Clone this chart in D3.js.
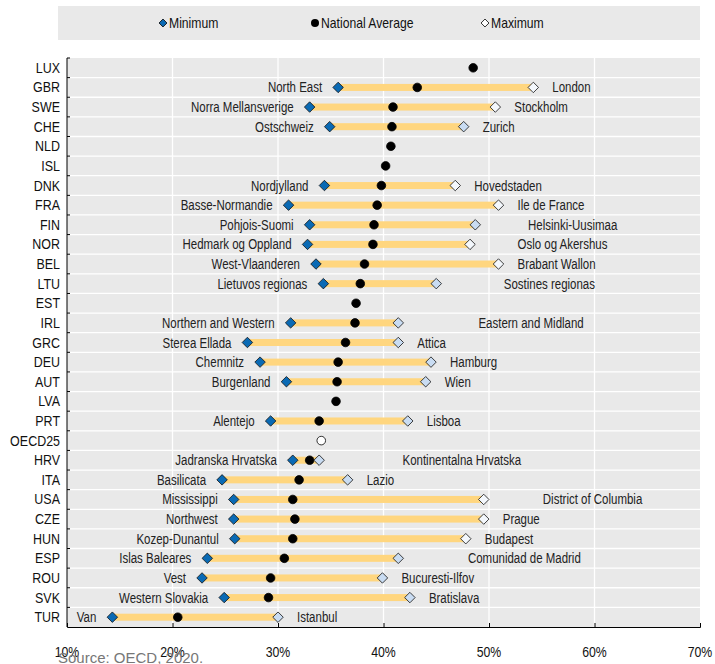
<!DOCTYPE html>
<html>
<head>
<meta charset="utf-8">
<script src="https://cdn.jsdelivr.net/npm/d3@7/dist/d3.min.js"></script>
<style>
  body { margin: 0; background: #fff; }
  svg text { font-family: "Liberation Sans", Arial, sans-serif; }
</style>
</head>
<body>
<div class="canvas"></div>
<script>
// countries, top to bottom
var countries = ["LUX", "GBR", "SWE", "CHE", "NLD", "ISL", "DNK", "FRA", "FIN", "NOR", "BEL", "LTU", "EST", "IRL",
    "GRC", "DEU", "AUT", "LVA", "PRT", "OECD25", "HRV", "ITA", "USA", "CZE", "HUN", "ESP", "ROU", "SVK", "TUR"];

var minValues = [null, 35.7, 33.0, 34.9, null, null, 34.4, 31.0, 33.0, 32.8, 33.6, 34.3, null, 31.2,
    27.1, 28.3, 30.8, null, 29.3, null, 31.4, 24.7, 25.8, 25.8, 25.9, 23.3, 22.8, 24.9, 14.3];

var avgValues = [48.5, 43.2, 40.9, 40.8, 40.7, 40.2, 39.8, 39.4, 39.1, 39.0, 38.2, 37.8, 37.4, 37.3,
    36.4, 35.7, 35.6, 35.5, 33.9, 34.1, 33.0, 32.0, 31.4, 31.6, 31.4, 30.6, 29.3, 29.1, 20.5];

var maxValues = [null, 54.2, 50.6, 47.6, null, null, 46.8, 50.9, 48.7, 48.2, 50.9, 45.0, null, 41.4,
    41.4, 44.5, 44.0, null, 42.3, null, 33.9, 36.6, 49.5, 49.5, 47.8, 41.4, 39.9, 42.5, 30.0];

var minRegions = ["", "North East", "Norra Mellansverige", "Ostschweiz", "", "", "Nordjylland", "Basse-Normandie",
    "Pohjois-Suomi", "Hedmark og Oppland", "West-Vlaanderen", "Lietuvos regionas", "", "Northern and Western",
    "Sterea Ellada", "Chemnitz", "Burgenland", "", "Alentejo", "", "Jadranska Hrvatska", "Basilicata",
    "Mississippi", "Northwest", "Kozep-Dunantul", "Islas Baleares", "Vest", "Western Slovakia", "Van"];

var maxRegions = ["", "London", "Stockholm", "Zurich", "", "", "Hovedstaden", "Ile de France",
    "Helsinki-Uusimaa", "Oslo og Akershus", "Brabant Wallon", "Sostines regionas", "", "Eastern and Midland",
    "Attica", "Hamburg", "Wien", "", "Lisboa", "", "Kontinentalna Hrvatska", "Lazio",
    "District of Columbia", "Prague", "Budapest", "Comunidad de Madrid", "Bucuresti-Ilfov", "Bratislava", "Istanbul"];

// where a max label sits on the value axis when it is pushed away from its marker (null = next to it)
var maxLabelAt = [null, null, null, null, null, null, null, null, 53.7, 52.7, null, 51.4, null, 49.0,
    null, null, null, null, null, null, 41.8, null, 55.1, null, null, 48.0, null, null, null];

// max markers drawn with a white fill instead of light blue
var maxWhite = ["GBR", "SWE", "DNK", "FRA", "NOR", "BEL", "USA", "CZE", "HUN"];

var xTicks = [10, 20, 30, 40, 50, 60, 70];
var legendItems = ["Minimum", "National Average", "Maximum"];

var rows = countries.map(function (c, i) {
    return { country: c, min: minValues[i], avg: avgValues[i], max: maxValues[i],
        minName: minRegions[i], maxName: maxRegions[i], maxAt: maxLabelAt[i] };
});

var W = 715, H = 664;
var margin = { top: 58, right: 15, bottom: 37, left: 67 };
var width = W - margin.left - margin.right,
    height = H - margin.top - margin.bottom;

// no narrow font available, so squeeze texts horizontally
function squeeze(sel, k) {
    sel.each(function () {
        var t = d3.select(this);
        var x0 = +t.attr("x") || 0, y0 = +t.attr("y") || 0;
        t.attr("transform", "translate(" + x0 + "," + y0 + ") scale(" + k + ",1)")
            .attr("x", 0).attr("y", 0);
    });
}

var svg = d3.select(".canvas").append("svg")
    .attr("width", W)
    .attr("height", H);

// legend
var legend = svg.append("g");
legend.append("rect")
    .attr("x", 58).attr("y", 6)
    .attr("width", 642).attr("height", 34)
    .attr("fill", "#e9e9e9");

var diamond = d3.symbol().type(d3.symbolDiamond2);
var legendX = [163, 315, 485];
legendItems.forEach(function (name, i) {
    var g = legend.append("g").attr("transform", "translate(" + legendX[i] + ",23)");
    if (i == 1) {
        g.append("circle").attr("r", 4).attr("fill", "#000");
    } else {
        g.append("path")
            .attr("d", diamond.size(40)())
            .attr("fill", i == 0 ? "#0a6ab4" : "#fff")
            .attr("stroke", "#000").attr("stroke-width", 0.8);
    }
    g.append("text").attr("x", 6).attr("y", 5)
        .attr("font-size", 14.5).attr("fill", "#111")
        .text(name)
        .call(squeeze, 0.84);
});

var chart = svg.append("g")
    .attr("transform", "translate(" + margin.left + "," + margin.top + ")");

var x = d3.scaleLinear().domain([10, 70]).range([0, width]);
var y = d3.scaleBand().domain(countries).range([0, height]);

// background and grid
chart.append("rect")
    .attr("width", width).attr("height", height)
    .attr("fill", "#e9e9e9");

chart.selectAll(".vgrid").data(xTicks.slice(1, -1))
    .enter().append("line")
    .attr("x1", function (d) { return x(d); }).attr("x2", function (d) { return x(d); })
    .attr("y1", 0).attr("y2", height)
    .attr("stroke", "#fff").attr("stroke-width", 1.3);

chart.selectAll(".hgrid").data(countries.slice(1))
    .enter().append("line")
    .attr("x1", 0).attr("x2", width)
    .attr("y1", function (d) { return y(d); }).attr("y2", function (d) { return y(d); })
    .attr("stroke", "#fff").attr("stroke-width", 1.3);

// axes
chart.append("g")
    .attr("transform", "translate(0," + height + ")")
    .call(d3.axisTop(x).tickValues(xTicks).tickSize(4).tickFormat(""))
    .call(function (g) { g.select(".domain").attr("stroke", "#000"); });

chart.selectAll(".xlabel").data(xTicks)
    .enter().append("text")
    .attr("x", function (d) { return x(d); })
    .attr("y", height + 30)
    .attr("text-anchor", "middle")
    .attr("font-size", 15).attr("fill", "#111")
    .text(function (d) { return d + "%"; })
    .call(squeeze, 0.82);

chart.append("line")
    .attr("x1", 0).attr("x2", 0).attr("y1", 0).attr("y2", height)
    .attr("stroke", "#000");
chart.selectAll(".ytick").data(countries)
    .enter().append("line")
    .attr("x1", 0).attr("x2", 3)
    .attr("y1", function (d) { return y(d); }).attr("y2", function (d) { return y(d); })
    .attr("stroke", "#000");

chart.selectAll(".ylabel").data(countries)
    .enter().append("text")
    .attr("x", -7)
    .attr("y", function (d) { return y(d) + y.bandwidth() / 2 + 5; })
    .attr("text-anchor", "end")
    .attr("font-size", 14.5).attr("fill", "#111")
    .text(function (d) { return d; })
    .call(squeeze, 0.86);

var ranged = rows.filter(function (d) { return d.min != null; });
var cy = function (d) { return y(d.country) + y.bandwidth() / 2; };

// min-max bars
chart.selectAll(".bar").data(ranged)
    .enter().append("rect")
    .attr("x", function (d) { return x(d.min); })
    .attr("y", function (d) { return cy(d) - 3.5; })
    .attr("width", function (d) { return x(d.max) - x(d.min); })
    .attr("height", 7)
    .attr("fill", "#ffd67f");

// national average
chart.selectAll(".avg").data(rows)
    .enter().append("circle")
    .attr("cx", function (d) { return x(d.avg); })
    .attr("cy", cy)
    .attr("r", 4.3)
    .attr("fill", function (d) { return d.country == "OECD25" ? "#fff" : "#000"; })
    .attr("stroke", "#000").attr("stroke-width", 0.8);

// min / max diamonds
chart.selectAll(".min").data(ranged)
    .enter().append("path")
    .attr("transform", function (d) { return "translate(" + x(d.min) + "," + cy(d) + ")"; })
    .attr("d", diamond.size(70)())
    .attr("fill", "#0a6ab4").attr("stroke", "#111").attr("stroke-width", 0.8);

chart.selectAll(".max").data(ranged)
    .enter().append("path")
    .attr("transform", function (d) { return "translate(" + x(d.max) + "," + cy(d) + ")"; })
    .attr("d", diamond.size(70)())
    .attr("fill", function (d) { return maxWhite.indexOf(d.country) >= 0 ? "#f4f8fd" : "#c9dcf2"; })
    .attr("stroke", "#111").attr("stroke-width", 0.8);

// region labels
var k = 0.82;
chart.selectAll(".minlabel").data(ranged)
    .enter().append("text")
    .attr("font-size", 14).attr("fill", "#222")
    .attr("y", function (d) { return cy(d) + 5; })
    .text(function (d) { return d.minName; })
    .each(function (d) {
        var t = d3.select(this);
        var w = this.getComputedTextLength() * k;
        if (x(d.min) - 16 - w < 0) {
            t.attr("x", 7).attr("text-anchor", "start");
        } else {
            t.attr("x", x(d.min) - 16).attr("text-anchor", "end");
        }
    })
    .call(squeeze, k);

chart.selectAll(".maxlabel").data(ranged)
    .enter().append("text")
    .attr("font-size", 14).attr("fill", "#222")
    .attr("x", function (d) { return d.maxAt != null ? x(d.maxAt) : x(d.max) + 19; })
    .attr("y", function (d) { return cy(d) + 5; })
    .text(function (d) { return d.maxName; })
    .call(squeeze, k);

svg.append("text")
    .attr("x", 58).attr("y", 663)
    .attr("font-size", 15).attr("fill", "#777")
    .text("Source: OECD, 2020.");
</script>
</body>
</html>
